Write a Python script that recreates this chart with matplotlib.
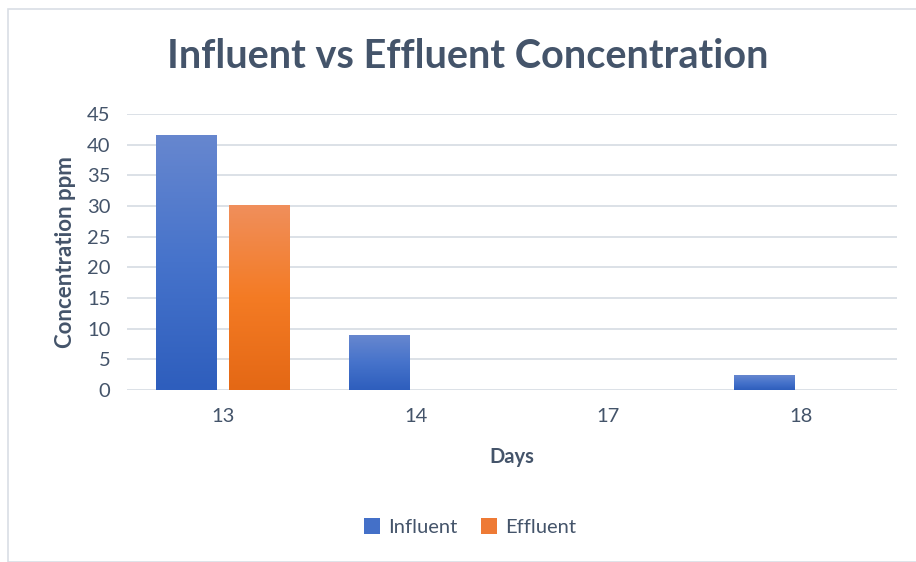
import matplotlib.pyplot as plt
import numpy as np
from matplotlib.colors import LinearSegmentedColormap
from matplotlib.patches import Rectangle, Patch

days     = ['13', '14', '17', '18']
influent = [41.6, 8.9, 0, 2.4]
effluent = [30.2, 0, 0, 0]

text_col = '#44546A'
grid_col = '#D9DEE5'

plt.rcParams['font.family'] = ['Lato', 'DejaVu Sans']

fig = plt.figure(figsize=(9.16, 5.62), dpi=100)
ax = fig.add_axes([127/916, 1 - 390/562, (897-127)/916, (390-114)/562])

# outer chart border
fig.patches.append(Rectangle((8/916, 0), 1, 1 - 9/562, transform=fig.transFigure,
                             fill=False, edgecolor=grid_col, lw=1.2))

x = np.arange(len(days))
w = 0.316
off = 0.19

blue_cmap   = LinearSegmentedColormap.from_list('b', ['#2E5EBD', '#4673CB', '#6787CF'])
orange_cmap = LinearSegmentedColormap.from_list('o', ['#E46815', '#F47B24', '#F08F5C'])

def grad_bars(xs, vals, cmap, zorder=3):
    bars = ax.bar(xs, vals, w, color='none', edgecolor='none', zorder=zorder)
    grad = np.linspace(0, 1, 256).reshape(-1, 1)
    for b in bars:
        h = b.get_height()
        if h <= 0:
            continue
        x0 = b.get_x()
        im = ax.imshow(grad, cmap=cmap, origin='lower', aspect='auto',
                       extent=[x0, x0 + b.get_width(), 0, h], zorder=zorder)
        im.set_clip_path(b)
    return bars

grad_bars(x - off, influent, blue_cmap)
grad_bars(x + off, effluent, orange_cmap)

ax.set_xlim(-0.5, 3.5)
ax.set_ylim(0, 45)
ax.set_yticks(range(0, 50, 5))
ax.set_xticks(x)
ax.set_xticklabels(days)
ax.yaxis.grid(True, color=grid_col, lw=1.3)
ax.set_axisbelow(True)
for s in ax.spines.values():
    s.set_visible(False)
ax.tick_params(length=0, labelsize=14.5, labelcolor=text_col)
ax.tick_params(axis='x', pad=13)
ax.tick_params(axis='y', pad=12)

ax.set_xlabel('Days', fontsize=14.5, fontweight='bold', color=text_col, labelpad=16)
ax.set_ylabel('Concentration ppm', fontsize=16, fontweight='bold', color=text_col, labelpad=8)

fig.text(468/916, 1 - 56/562, 'Influent vs Effluent Concentration', ha='center', va='center',
         fontsize=28.5, fontweight='bold', color=text_col)

handles = [Patch(facecolor='#4470C8', label='Influent'),
           Patch(facecolor='#EE7A35', label='Effluent')]
fig.legend(handles=handles, loc='center', bbox_to_anchor=(470/916, 1 - 527/562), ncol=2,
           frameon=False, fontsize=14.5, labelcolor=text_col, handlelength=0.8, handleheight=0.8,
           handletextpad=0.4, columnspacing=1.2)

fig.savefig('out.png', dpi=100, facecolor='white')
